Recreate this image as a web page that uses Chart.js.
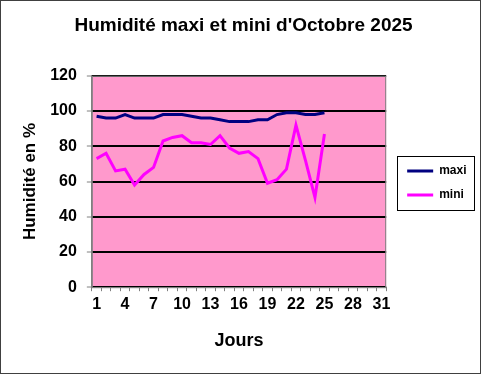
<!DOCTYPE html>
<html>
<head>
<meta charset="utf-8">
<script src="https://cdn.jsdelivr.net/npm/chart.js@4.4.1/dist/chart.umd.min.js"></script>
<style>
  body { margin: 0; background: #fff; }
  #wrap { width: 481px; height: 374px; }
</style>
</head>
<body>
<div id="wrap"><canvas id="humChart"></canvas></div>
<script>
// jours du mois
const jours = [1,2,3,4,5,6,7,8,9,10,11,12,13,14,15,16,17,18,19,20,21,22,23,24,25,26,27,28,29,30,31];
// humidité maxi / mini (%)
const maxi = [97,96,96,98,96,96,96,98,98,98,97,96,96,95,94,94,94,95,95,98,99,99,98,98,99,null,null,null,null,null,null];
const mini = [73,76,66,67,58,64,68,83,85,86,82,82,81,86,79,76,77,73,59,61,67,92,72,51,87,null,null,null,null,null,null];
const joursAffiches = [1,4,7,10,13,16,19,22,25,28,31];

const police = 'Arial, "Liberation Sans"';

const fondPlot = {
    id: 'fondPlot',
    beforeDraw(chart) {
        const { ctx, chartArea: a } = chart;
        ctx.save();
        ctx.fillStyle = '#fff';
        ctx.fillRect(0, 0, chart.width, chart.height);
        ctx.fillStyle = '#FF99CC';
        ctx.fillRect(a.left, a.top, a.right - a.left, a.bottom - a.top);
        ctx.restore();
    },
    afterDraw(chart) {
        const { ctx, chartArea: a } = chart;
        ctx.save();
        // bord du graphique
        ctx.strokeStyle = '#808080';
        ctx.lineWidth = 1;
        ctx.strokeRect(a.left + 0.5, a.top + 0.5, a.right - a.left - 1, a.bottom - a.top);
        // cadre extérieur
        ctx.strokeStyle = '#404040';
        ctx.strokeRect(0.5, 0.5, chart.width - 1, chart.height - 1);
        // cadre de la légende
        const boxes = chart.legend.legendHitBoxes;
        if (boxes && boxes.length) {
            let x0 = Math.min(...boxes.map(b => b.left)) - 10;
            let x1 = Math.max(...boxes.map(b => b.left + b.width)) + 8;
            let y0 = Math.min(...boxes.map(b => b.top)) - 9;
            let y1 = Math.max(...boxes.map(b => b.top + b.height)) + 9;
            ctx.strokeStyle = '#000';
            ctx.strokeRect(Math.round(x0) + 0.5, Math.round(y0) + 0.5, Math.round(x1 - x0), Math.round(y1 - y0));
        }
        ctx.restore();
    }
};

const ctx = document.getElementById('humChart').getContext('2d');
new Chart(ctx, {
    type: 'line',
    data: {
        labels: jours,
        datasets: [{
            label: 'maxi',
            data: maxi,
            yAxisID: 'y',
            borderColor: '#000080',
            backgroundColor: '#000080',
            borderWidth: 3,
            pointRadius: 0,
            tension: 0
        }, {
            label: 'mini',
            data: mini,
            yAxisID: 'y',
            borderColor: '#FF00FF',
            backgroundColor: '#FF00FF',
            borderWidth: 3,
            pointRadius: 0,
            tension: 0
        }]
    },
    options: {
        responsive: true,
        maintainAspectRatio: false,
        animation: false,
        layout: { padding: { top: 10, right: 10, bottom: 18, left: 16 } },
        plugins: {
            title: {
                display: true,
                text: "Humidité maxi et mini d'Octobre 2025",
                color: '#000',
                font: { family: police, size: 19, weight: 'bold' },
                padding: { top: 4, bottom: 39 }
            },
            legend: {
                position: 'right',
                labels: {
                    color: '#000',
                    font: { family: police, size: 12, weight: 'bold' },
                    usePointStyle: true,
                    pointStyle: 'line',
                    pointStyleWidth: 26,
                    padding: 12
                }
            },
            tooltip: { enabled: false }
        },
        scales: {
            x: {
                offset: true,
                grid: {
                    offset: true,
                    drawOnChartArea: false,
                    color: '#808080',
                    tickLength: 4
                },
                border: { color: '#808080' },
                ticks: {
                    autoSkip: false,
                    maxRotation: 0,
                    color: '#000',
                    font: { family: police, size: 16, weight: 'bold' },
                    padding: 4,
                    callback: function (v, i) {
                        return joursAffiches.includes(jours[i]) ? String(jours[i]) : '';
                    }
                },
                title: {
                    display: true,
                    text: 'Jours',
                    color: '#000',
                    font: { family: police, size: 18, weight: 'bold' },
                    padding: { top: 12, bottom: 4 }
                }
            },
            y: {
                min: 0,
                max: 120,
                grid: {
                    color: '#000',
                    lineWidth: 2,
                    tickColor: '#808080',
                    tickWidth: 1,
                    tickLength: 5
                },
                border: { color: '#808080' },
                ticks: {
                    stepSize: 20,
                    color: '#000',
                    font: { family: police, size: 16, weight: 'bold' },
                    padding: 10
                },
                title: {
                    display: true,
                    text: 'Humidité en %',
                    color: '#000',
                    font: { family: police, size: 17, weight: 'bold' },
                    padding: { top: 4, bottom: 3 }
                }
            },
            // petite marge entre le graphique et la légende
            marge: {
                type: 'linear',
                position: 'right',
                grid: { display: false },
                border: { display: false },
                ticks: { display: false },
                afterFit(scale) { scale.width = 9; }
            }
        }
    },
    plugins: [fondPlot]
});
</script>
</body>
</html>
